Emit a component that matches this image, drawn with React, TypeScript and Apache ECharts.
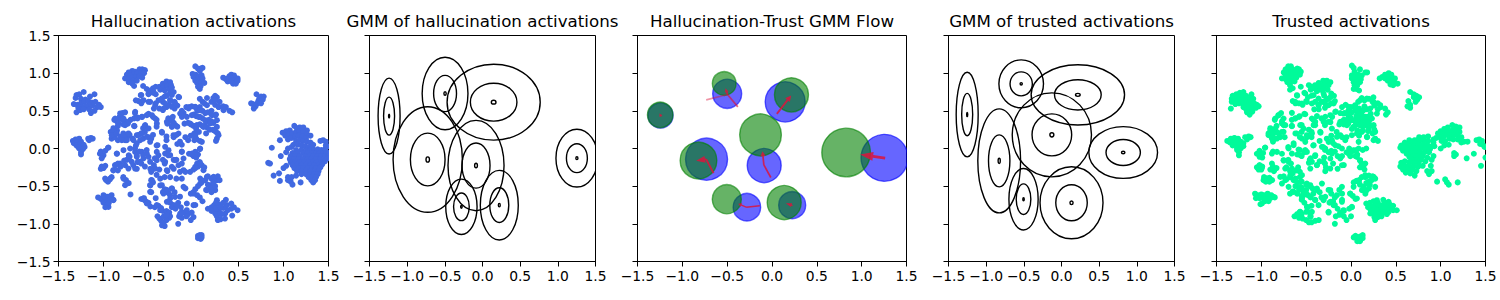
import React, { useEffect, useRef } from "react";
import * as echarts from "echarts";

type P = number[];

const panelTitles = [
  "Hallucination activations",
  "GMM of hallucination activations",
  "Hallucination-Trust GMM Flow",
  "GMM of trusted activations",
  "Trusted activations",
];
const tickValues = [-1.5, -1.0, -0.5, 0.0, 0.5, 1.0, 1.5];

// ---------- Hallucination activations (cluster by cluster)
const hallUpperLeft: P[] = [[-1.30,0.71],[-1.27,0.72],[-1.22,0.75],[-1.31,0.67],[-1.25,0.66],[-1.20,0.65],[-1.15,0.69],[-1.10,0.72],[-1.33,0.59],[-1.29,0.58],[-1.25,0.60],[-1.21,0.62],[-1.17,0.63],[-1.13,0.61],[-1.09,0.62],[-1.05,0.58],[-1.03,0.55],[-1.07,0.55],[-1.12,0.57],[-1.16,0.57],[-1.20,0.56],[-1.24,0.55],[-1.28,0.54],[-1.30,0.48],[-1.26,0.51],[-1.22,0.52],[-1.16,0.52],[-1.14,0.47],[-1.10,0.50]];
const hallLeft: P[] = [[-1.34,0.10],[-1.31,0.12],[-1.27,0.13],[-1.33,0.07],[-1.29,0.08],[-1.25,0.09],[-1.30,0.04],[-1.26,0.04],[-1.22,0.05],[-1.17,0.13],[-1.14,0.14],[-1.12,0.13],[-1.16,0.11],[-1.27,0.00],[-1.23,-0.01],[-1.25,-0.05],[-1.28,0.02],[-1.21,0.02],[-1.25,-0.08]];
const hallTopLeft: P[] = [[-0.68,1.03],[-0.72,1.01],[-0.65,1.02],[-0.60,1.05],[-0.57,1.05],[-0.54,1.04],[-0.74,0.98],[-0.70,0.97],[-0.66,0.98],[-0.62,1.00],[-0.58,1.00],[-0.55,1.00],[-0.76,0.93],[-0.72,0.92],[-0.68,0.94],[-0.64,0.95],[-0.60,0.96],[-0.57,0.94],[-0.72,0.88],[-0.67,0.90],[-0.63,0.90],[-0.68,0.86],[-0.66,0.83],[-0.56,0.83],[-0.52,0.79]];
const hallUpperMid: P[] = [[-0.45,0.80],[-0.42,0.82],[-0.38,0.82],[-0.34,0.86],[-0.30,0.89],[-0.26,0.88],[-0.33,0.82],[-0.29,0.83],[-0.25,0.84],[-0.37,0.78],[-0.32,0.77],[-0.27,0.79],[-0.24,0.81],[-0.48,0.77],[-0.45,0.74],[-0.50,0.72],[-0.42,0.72],[-0.30,0.70],[-0.26,0.74],[-0.22,0.75],[-0.61,0.63],[-0.64,0.64],[-0.58,0.71],[-0.58,0.60],[-0.49,0.75],[-0.50,0.62],[-0.42,0.60],[-0.44,0.53],[-0.38,0.53],[-0.34,0.51],[-0.30,0.55],[-0.34,0.62],[-0.26,0.64],[-0.21,0.62],[-0.21,0.53],[-0.24,0.71],[-0.32,0.69],[-0.27,0.58],[-0.18,0.57],[-0.16,0.68]];
const hallUpperMid2: P[] = [[-0.586,0.708],[-0.556,0.641],[-0.482,0.619],[-0.426,0.575],[-0.5,0.73],[-0.445,0.752],[-0.389,0.641],[-0.352,0.663],[-0.315,0.597],[-0.26,0.641],[-0.204,0.597],[-0.241,0.553],[-0.167,0.686],[-0.296,0.708],[-0.333,0.531]];
const hallTopCenter: P[] = [[0.02,1.09],[0.05,1.06],[0.08,1.06],[0.10,1.07],[0.07,1.03],[-0.01,0.99],[0.02,0.98],[0.00,0.95],[0.03,0.94],[0.06,0.96],[0.09,0.97],[0.02,0.90],[0.05,0.91],[0.08,0.92],[0.10,0.93],[0.04,0.87],[0.07,0.86],[0.09,0.88],[0.05,0.82],[0.07,0.79],[0.08,0.83],[0.12,0.87]];
const hallTopRight: P[] = [[0.33,0.94],[0.36,0.92],[0.38,0.89],[0.40,0.96],[0.42,0.98],[0.45,0.97],[0.38,0.93],[0.42,0.93],[0.46,0.94],[0.49,0.93],[0.42,0.89],[0.45,0.90],[0.48,0.89],[0.44,0.86],[0.47,0.86],[0.49,0.90],[0.70,0.72],[0.73,0.66],[0.78,0.69],[0.75,0.69],[0.72,0.63],[0.77,0.65],[0.71,0.60],[0.75,0.60],[0.69,0.56],[0.66,0.59],[0.64,0.60],[0.67,0.53]];
const hallRightUpper: P[] = [[0.99,0.21],[1.03,0.23],[1.07,0.24],[1.12,0.30],[1.15,0.27],[1.18,0.28],[1.22,0.28],[1.26,0.24],[1.02,0.17],[1.06,0.19],[1.10,0.20],[1.14,0.22],[1.18,0.23],[1.22,0.22],[1.26,0.19],[1.30,0.17],[1.05,0.12],[1.09,0.14],[1.13,0.16],[1.17,0.17],[1.21,0.16],[1.25,0.14],[0.96,0.11],[1.14,0.10],[1.18,0.11],[1.22,0.10],[1.26,0.09],[1.30,0.08],[1.33,0.05],[1.41,0.10],[1.44,0.11],[1.47,0.09],[1.11,0.05],[1.16,0.05],[1.20,0.04],[1.24,0.03],[1.28,0.02],[1.32,0.00],[1.05,0.00],[1.09,0.02]];
const hallRightDense: P[] = [[1.14,-0.02],[1.20,-0.02],[1.26,-0.02],[1.30,-0.02],[1.34,-0.02],[1.38,-0.01],[1.42,-0.02],[1.46,-0.01],[1.49,0.03],[1.47,0.04],[1.10,-0.06],[1.16,-0.06],[1.22,-0.06],[1.27,-0.06],[1.32,-0.06],[1.36,-0.06],[1.40,-0.06],[1.44,-0.06],[1.48,-0.05],[1.08,-0.10],[1.13,-0.10],[1.18,-0.10],[1.24,-0.10],[1.29,-0.10],[1.33,-0.10],[1.38,-0.10],[1.42,-0.10],[1.46,-0.10],[1.50,-0.10],[1.07,-0.14],[1.12,-0.14],[1.17,-0.14],[1.22,-0.14],[1.27,-0.14],[1.31,-0.14],[1.36,-0.14],[1.41,-0.14],[1.45,-0.14],[1.49,-0.13],[1.08,-0.18],[1.13,-0.18],[1.18,-0.18],[1.23,-0.18],[1.28,-0.18],[1.33,-0.18],[1.37,-0.18],[1.42,-0.18],[1.46,-0.17],[1.10,-0.22],[1.15,-0.22],[1.20,-0.22],[1.25,-0.22],[1.30,-0.22],[1.34,-0.22],[1.39,-0.22],[1.43,-0.21],[1.12,-0.26],[1.17,-0.26],[1.22,-0.26],[1.27,-0.26],[1.32,-0.26],[1.36,-0.26],[1.41,-0.25],[1.15,-0.30],[1.20,-0.30],[1.25,-0.30],[1.30,-0.30],[1.35,-0.30],[1.39,-0.30],[1.20,-0.34],[1.25,-0.34],[1.30,-0.34],[1.34,-0.34],[1.38,-0.34],[1.28,-0.38],[1.32,-0.38],[1.36,-0.38],[1.31,-0.42],[1.35,-0.42],[1.33,-0.45]];
const hallRightStray: P[] = [[0.87,0.01],[0.83,-0.19],[0.85,-0.20],[0.89,-0.36],[0.95,-0.33],[0.96,-0.43],[0.97,-0.10],[1.00,-0.26],[1.03,-0.23],[1.05,-0.38],[1.08,-0.44],[1.10,-0.48],[1.05,-0.42],[1.09,-0.38],[1.14,-0.36],[1.19,-0.45],[1.03,-0.05]];
const hallMidLeft: P[] = [[-0.88,0.38],[-0.85,0.36],[-0.82,0.42],[-0.79,0.47],[-0.76,0.48],[-0.80,0.39],[-0.76,0.36],[-0.73,0.33],[-0.70,0.38],[-0.66,0.40],[-0.78,0.32],[-0.84,0.30],[-0.65,0.47],[-0.62,0.41],[-0.57,0.42],[-0.50,0.46],[-0.45,0.42],[-0.41,0.38],[-0.41,0.29],[-0.54,0.30],[-0.56,0.27],[-0.66,0.30],[-0.89,0.27],[-0.85,0.24],[-0.92,0.22],[-0.91,0.13],[-0.84,0.11],[-0.78,0.20],[-0.74,0.15],[-0.80,0.13],[-0.71,0.18],[-0.61,0.18],[-0.58,0.20],[-0.56,0.13],[-0.50,0.15],[-0.45,0.18],[-0.47,0.13],[-0.64,0.04],[-0.63,0.07],[-0.65,0.00],[-0.76,0.11],[-0.68,0.13],[-0.54,0.22],[-0.88,0.15],[-0.95,0.01]];
const hallMidLeft2: P[] = [[-0.815,0.465],[-0.871,0.398],[-0.778,0.398],[-0.834,0.332],[-0.723,0.354],[-0.76,0.31],[-0.89,0.244],[-0.908,0.177],[-0.853,0.2],[-0.815,0.155],[-0.778,0.177],[-0.723,0.2],[-0.797,0.111],[-0.741,0.111],[-0.63,0.177],[-0.574,0.2],[-0.593,0.111],[-0.519,0.155],[-0.482,0.089],[-0.667,0.111],[-0.648,0.487],[-0.574,0.42],[-0.622,0.398],[-0.519,0.442],[-0.463,0.442],[-0.426,0.398],[-0.407,0.332],[-0.537,0.31],[-0.5,0.266],[-0.656,0.297],[-0.352,0.221],[-0.296,0.354],[-0.24,0.376],[-0.203,0.31],[-0.148,0.464],[-0.129,0.42],[-0.24,0.287],[-0.222,0.177],[-0.167,0.199]];
const hallCenter: P[] = [[-0.41,0.04],[-0.30,0.11],[-0.35,0.21],[-0.22,0.15],[-0.19,0.18],[-0.09,0.15],[-0.06,0.11],[-0.15,0.09],[-0.13,0.05],[0.00,0.18],[0.01,0.11],[0.07,0.10],[-0.28,0.40],[-0.25,0.37],[-0.22,0.34],[-0.29,0.33],[-0.24,0.30],[-0.18,0.29],[-0.23,0.42],[-0.30,0.16],[-0.18,0.06],[-0.03,0.17],[0.03,0.13],[-0.05,-0.07],[-0.02,-0.08],[0.02,-0.05],[0.05,-0.08],[0.07,-0.01],[0.00,-0.10],[0.03,-0.12],[0.04,-0.20],[0.07,-0.18],[0.09,-0.22],[0.12,-0.25],[0.00,-0.28],[0.02,-0.26],[0.05,-0.24]];
const hallCenter2: P[] = [[-0.945,0.013],[-0.853,-0.067],[-0.778,-0.022],[-0.704,0.0],[-0.649,-0.045],[-0.574,-0.045],[-0.519,-0.067],[-0.63,-0.111],[-0.723,-0.133],[-0.686,-0.177],[-0.556,-0.133],[-0.482,-0.177],[-0.76,-0.222],[-0.871,-0.222],[-0.89,-0.288],[-0.816,-0.2],[-0.723,-0.266],[-0.649,-0.266],[-0.593,-0.177],[-0.4,0.044],[-0.408,-0.045],[-0.315,0.022],[-0.278,-0.022],[-0.315,-0.067],[-0.259,-0.089],[-0.13,-0.045],[-0.111,-0.133],[-0.204,-0.155],[-0.315,-0.177],[-0.167,-0.222],[-0.241,-0.244],[-0.296,-0.288],[-0.111,-0.288],[-0.037,-0.31],[0.019,-0.244],[0.074,-0.199],[0.111,-0.288],[0.019,-0.045],[0.074,0.0],[-0.018,-0.067],[0.037,-0.089],[-0.463,-0.288],[-0.426,-0.266],[-0.408,-0.155]];
const hallLowerLeft: P[] = [[-1.04,-0.07],[-1.00,-0.09],[-1.03,-0.04],[-1.02,-0.13],[-0.98,-0.03],[-0.85,-0.07],[-1.02,-0.24],[-0.98,-0.23],[-1.03,-0.27],[-1.00,-0.26],[-0.97,-0.42],[-0.93,-0.41],[-0.91,-0.38],[-0.95,-0.44],[-0.89,-0.29],[-0.87,-0.22],[-0.84,-0.20],[-0.81,-0.24],[-0.84,-0.29],[-0.78,-0.38],[-0.75,-0.42],[-0.72,-0.46],[-0.70,-0.61],[-0.74,-0.15],[-0.71,-0.11],[-0.67,-0.22],[-0.63,-0.27],[-0.72,-0.09],[-0.63,-0.09],[-0.60,-0.04],[-0.56,-0.09],[-0.52,-0.02],[-0.50,-0.11],[-0.58,-0.20],[-0.54,-0.24],[-0.48,-0.27],[-0.47,-0.31],[-0.41,-0.35],[-0.37,-0.40],[-0.32,-0.38],[-0.26,-0.38],[-0.19,-0.40],[-0.13,-0.40],[-0.15,-0.31],[-0.09,-0.31],[-0.22,-0.27],[-0.32,-0.20],[-0.34,-0.15],[-0.39,-0.09],[-0.43,-0.13],[-0.28,-0.09],[-0.22,-0.15],[-0.19,-0.15],[-0.13,-0.20],[-0.13,-0.04],[-0.62,-0.18],[-0.77,-0.16],[-0.44,-0.22],[-0.38,-0.28],[-0.29,-0.30]];
const hallLowerMid: P[] = [[-0.47,-0.42],[-0.48,-0.49],[-0.47,-0.58],[-0.45,-0.45],[-0.37,-0.49],[-0.34,-0.58],[-0.30,-0.55],[-0.24,-0.53],[-0.21,-0.58],[-0.26,-0.62],[-0.32,-0.54],[-0.28,-0.59],[-0.15,-0.64],[-0.09,-0.53],[-0.42,-0.66],[-0.58,-0.67],[-0.55,-0.68],[-0.53,-0.70],[-0.50,-0.72],[-0.55,-0.66],[-0.48,-0.77],[-0.43,-0.78],[-0.39,-0.76],[-0.36,-0.79],[-0.34,-0.83],[-0.30,-0.83],[-0.27,-0.85],[-0.40,-0.90],[-0.38,-0.93],[-0.36,-0.96],[-0.33,-0.98],[-0.35,-1.02],[-0.32,-1.03],[-0.30,-0.95],[-0.27,-0.92],[-0.26,-0.90],[-0.33,-0.90],[-0.30,-0.88],[-0.26,-0.72],[-0.22,-0.75],[-0.24,-0.78],[-0.20,-0.80],[-0.17,-0.72],[-0.14,-0.78],[-0.13,-0.84],[-0.10,-0.85],[-0.06,-0.87],[-0.02,-0.85],[-0.16,-0.90],[-0.13,-0.92],[-0.08,-0.90],[-0.17,-1.00],[-0.03,-0.95],[0.00,-0.91],[0.02,-0.75]];
const hallLowerMid2: P[] = [[-0.463,-0.421],[-0.482,-0.487],[-0.352,-0.487],[-0.296,-0.553],[-0.241,-0.531],[-0.333,-0.598],[-0.204,-0.642],[-0.111,-0.509],[0.0,-0.598],[0.074,-0.465],[0.149,-0.376],[0.223,-0.376],[0.26,-0.421],[0.204,-0.487],[0.149,-0.553],[0.074,-0.399],[0.241,-0.553],[-0.482,-0.575],[-0.556,-0.664],[-0.519,-0.73],[-0.408,-0.752],[-0.371,-0.819],[-0.296,-0.708],[-0.185,-0.752],[-0.074,-0.73],[0.0,-0.752],[-0.148,-0.863],[-0.074,-0.819],[-0.259,-0.664],[-0.982,-0.399],[-0.927,-0.399],[-0.778,-0.399],[-0.76,-0.487],[-0.89,-0.686],[-0.964,-0.642],[-1.0,-0.708],[-0.945,-0.775],[0.26,-0.686],[0.223,-0.775],[0.297,-0.775],[0.371,-0.752],[0.26,-0.863],[0.352,-0.863]];
const hallLowerRight: P[] = [[-0.03,-0.60],[0.00,-0.58],[0.04,-0.62],[0.07,-0.65],[0.10,-0.70],[0.02,-0.54],[0.05,-0.50],[0.09,-0.45],[0.13,-0.42],[0.16,-0.37],[0.20,-0.40],[0.16,-0.48],[0.19,-0.53],[0.22,-0.45],[0.26,-0.40],[0.27,-0.37],[0.24,-0.50],[0.20,-0.58],[0.14,-0.55],[0.29,-0.42],[0.16,-0.80],[0.20,-0.78],[0.23,-0.75],[0.25,-0.72],[0.28,-0.74],[0.36,-0.68],[0.33,-0.72],[0.42,-0.73],[0.45,-0.78],[0.49,-0.82],[0.42,-0.80],[0.38,-0.82],[0.20,-0.83],[0.24,-0.86],[0.28,-0.82],[0.33,-0.79],[0.26,-0.90],[0.30,-0.94],[0.35,-0.93],[0.43,-0.89],[0.31,-0.87],[0.27,-0.95],[0.30,-0.86],[0.25,-0.80],[0.30,-0.78],[0.05,-1.16],[0.07,-1.15],[0.09,-1.15],[0.05,-1.19],[0.08,-1.20],[0.09,-1.18],[-1.06,-0.65],[-1.03,-0.67],[-1.00,-0.62],[-0.98,-0.65],[-0.95,-0.64],[-0.91,-0.62],[-0.89,-0.68],[-0.93,-0.68],[-0.97,-0.70],[-1.00,-0.72],[-0.96,-0.74],[-0.98,-0.78],[-0.94,-0.72]];
const hallCenterRight: P[] = [[-0.08,0.55],[-0.05,0.55],[-0.02,0.56],[0.02,0.55],[0.04,0.50],[0.07,0.55],[0.07,0.66],[0.10,0.62],[0.12,0.60],[0.15,0.67],[0.20,0.62],[0.22,0.67],[0.24,0.70],[0.26,0.68],[0.29,0.62],[0.24,0.58],[0.28,0.55],[0.33,0.56],[0.36,0.55],[0.40,0.50],[0.43,0.48],[0.25,0.45],[0.10,0.50],[0.13,0.47],[0.16,0.48],[0.20,0.50],[0.00,0.45],[0.03,0.43],[0.07,0.42],[0.10,0.40],[-0.11,0.47],[-0.13,0.50],[-0.10,0.33],[-0.06,0.34],[-0.03,0.32],[0.00,0.30],[0.03,0.30],[0.07,0.32],[0.10,0.30],[0.14,0.35],[0.17,0.38],[0.20,0.36],[0.22,0.34],[0.15,0.28],[0.18,0.25],[0.22,0.25],[0.25,0.22],[0.27,0.20],[0.14,0.20],[0.26,0.13],[0.25,0.10],[0.03,0.26],[0.06,0.22],[0.01,0.20]];
const hallCenterRight2: P[] = [[-0.055,0.531],[0.019,0.553],[0.074,0.509],[0.149,0.575],[0.241,0.641],[0.278,0.553],[0.334,0.509],[-0.074,0.42],[-0.018,0.442],[0.056,0.42],[0.13,0.376],[0.204,0.442],[0.26,0.376],[-0.037,0.332],[0.037,0.31],[0.111,0.287],[0.186,0.332],[0.26,0.287],[0.278,0.177],[0.223,0.243],[0.019,0.177],[0.093,0.088],[0.241,0.442]];
const hallucinatedX = [hallUpperLeft, hallLeft, hallTopLeft, hallUpperMid, hallUpperMid2, hallTopCenter, hallTopRight, hallRightUpper, hallRightDense, hallRightStray, hallMidLeft, hallMidLeft2, hallCenter, hallCenter2, hallLowerLeft, hallLowerMid, hallLowerMid2, hallLowerRight, hallCenterRight, hallCenterRight2].flat();

// ---------- Trusted activations
const trustUpperLeft: P[] = [[-1.32,0.70],[-1.28,0.72],[-1.24,0.74],[-1.20,0.75],[-1.33,0.66],[-1.29,0.67],[-1.25,0.68],[-1.21,0.69],[-1.17,0.70],[-1.11,0.72],[-1.33,0.62],[-1.29,0.63],[-1.25,0.64],[-1.21,0.65],[-1.17,0.65],[-1.13,0.66],[-1.09,0.66],[-1.29,0.59],[-1.25,0.60],[-1.21,0.60],[-1.16,0.61],[-1.12,0.62],[-1.08,0.60],[-1.05,0.58],[-1.03,0.56],[-1.34,0.53],[-1.20,0.55],[-1.15,0.57],[-1.10,0.56],[-1.06,0.54],[-1.17,0.52],[-1.12,0.52],[-1.16,0.48],[-1.10,0.49],[-1.13,0.45]];
const trustLeft: P[] = [[-1.38,0.10],[-1.34,0.13],[-1.30,0.14],[-1.26,0.13],[-1.35,0.08],[-1.31,0.08],[-1.27,0.09],[-1.23,0.09],[-1.32,0.04],[-1.28,0.04],[-1.24,0.05],[-1.20,0.07],[-1.18,0.15],[-1.14,0.16],[-1.12,0.15],[-1.16,0.12],[-1.27,0.00],[-1.23,0.00],[-1.20,0.03],[-1.25,-0.05],[-1.27,-0.02],[-1.25,-0.09]];
const trustTopLeft: P[] = [[-0.70,1.09],[-0.67,1.09],[-0.73,1.05],[-0.69,1.05],[-0.65,1.05],[-0.60,1.06],[-0.58,1.05],[-0.75,1.01],[-0.71,1.01],[-0.67,1.01],[-0.63,1.01],[-0.59,1.02],[-0.56,1.02],[-0.73,0.97],[-0.69,0.97],[-0.65,0.97],[-0.61,0.97],[-0.57,0.98],[-0.77,0.93],[-0.73,0.92],[-0.69,0.93],[-0.65,0.93],[-0.61,0.94],[-0.71,0.88],[-0.67,0.89],[-0.63,0.89],[-0.68,0.84],[-0.65,0.80],[-0.68,0.78]];
const trustUpperMid: P[] = [[-0.47,0.84],[-0.44,0.82],[-0.40,0.84],[-0.36,0.87],[-0.31,0.90],[-0.27,0.90],[-0.23,0.88],[-0.45,0.78],[-0.41,0.80],[-0.37,0.82],[-0.33,0.84],[-0.29,0.85],[-0.25,0.84],[-0.38,0.76],[-0.34,0.78],[-0.30,0.80],[-0.26,0.78],[-0.22,0.73],[-0.56,0.82],[-0.52,0.74],[-0.60,0.70],[-0.65,0.63],[-0.62,0.60],[-0.58,0.60],[-0.54,0.58],[-0.50,0.63],[-0.48,0.68],[-0.44,0.70],[-0.40,0.62],[-0.36,0.58],[-0.33,0.62],[-0.30,0.70],[-0.27,0.65],[-0.23,0.68],[-0.19,0.70],[-0.18,0.63],[-0.22,0.60],[-0.28,0.58],[-0.36,0.52],[-0.41,0.52],[-0.29,0.54],[-0.17,0.49]];
const trustUpperMid2: P[] = [[-0.603,0.708],[-0.622,0.619],[-0.547,0.597],[-0.492,0.619],[-0.51,0.73],[-0.417,0.708],[-0.362,0.663],[-0.306,0.73],[-0.306,0.619],[-0.25,0.663],[-0.194,0.597],[-0.25,0.575],[-0.362,0.575],[-0.436,0.597]];
const trustTopCenter: P[] = [[0.01,1.10],[0.03,1.07],[0.10,1.05],[0.16,1.01],[0.18,1.01],[0.04,1.02],[0.01,0.97],[0.04,0.97],[0.08,0.98],[0.12,0.97],[0.01,0.93],[0.04,0.93],[0.08,0.93],[0.11,0.92],[0.03,0.88],[0.07,0.89],[0.10,0.88],[0.04,0.84],[0.07,0.84],[0.03,0.79],[0.06,0.79],[0.09,0.77]];
const trustTopRight: P[] = [[0.32,0.93],[0.35,0.95],[0.38,0.98],[0.42,1.00],[0.45,0.98],[0.38,0.93],[0.42,0.94],[0.46,0.94],[0.49,0.93],[0.41,0.90],[0.45,0.89],[0.49,0.87],[0.52,0.86],[0.44,0.85],[0.47,0.84],[0.66,0.75],[0.70,0.72],[0.73,0.70],[0.76,0.68],[0.70,0.68],[0.74,0.65],[0.72,0.62],[0.64,0.63],[0.66,0.58],[0.66,0.54],[0.63,0.56]];
const trustRightDense: P[] = [[0.60,0.08],[0.65,0.11],[0.71,0.11],[0.76,0.15],[0.81,0.15],[0.86,0.16],[0.92,0.12],[0.56,0.04],[0.61,0.06],[0.66,0.07],[0.71,0.08],[0.76,0.10],[0.81,0.10],[0.86,0.10],[0.92,0.08],[0.55,0.01],[0.60,0.01],[0.65,0.03],[0.70,0.03],[0.75,0.05],[0.80,0.05],[0.85,0.05],[0.90,0.03],[0.58,-0.03],[0.63,-0.03],[0.68,-0.02],[0.73,0.00],[0.78,0.00],[0.83,0.00],[0.88,-0.01],[0.93,0.03],[0.62,-0.07],[0.67,-0.07],[0.72,-0.05],[0.77,-0.05],[0.82,-0.05],[0.87,-0.05],[0.65,-0.11],[0.70,-0.10],[0.75,-0.10],[0.80,-0.10],[0.85,-0.12],[0.92,-0.10],[0.68,-0.15],[0.73,-0.15],[0.78,-0.15],[0.83,-0.17],[0.90,-0.15],[0.56,-0.19],[0.60,-0.17],[0.65,-0.18],[0.70,-0.19],[0.75,-0.19],[0.55,-0.24],[0.60,-0.23],[0.65,-0.23],[0.70,-0.24],[0.75,-0.24],[0.80,-0.23],[0.89,-0.23],[0.58,-0.28],[0.63,-0.28],[0.68,-0.29],[0.73,-0.30],[0.85,-0.30],[0.90,-0.30],[0.61,-0.32],[0.66,-0.33],[0.71,-0.36],[0.87,-0.34]];
const trustRightArm: P[] = [[1.00,0.23],[1.04,0.26],[1.08,0.28],[1.13,0.31],[1.17,0.29],[1.21,0.28],[0.97,0.20],[1.01,0.20],[1.05,0.21],[1.09,0.22],[1.13,0.24],[1.17,0.24],[1.21,0.22],[0.95,0.14],[0.99,0.15],[1.03,0.16],[1.07,0.18],[1.11,0.18],[1.15,0.18],[1.19,0.18],[1.23,0.15],[1.01,0.10],[1.05,0.10],[1.10,0.13],[1.14,0.12],[1.19,0.12],[1.26,0.09],[1.30,0.09],[1.23,0.08],[1.09,0.05],[1.04,0.04],[1.00,0.00],[1.40,0.11],[1.43,0.12],[1.46,0.10],[1.47,0.05],[1.44,0.06],[1.49,0.02],[1.29,-0.13],[1.37,-0.07],[1.45,-0.23],[1.50,-0.12],[1.15,-0.06],[1.17,-0.08],[1.15,-0.10],[0.96,-0.44],[1.05,-0.41],[1.07,-0.45],[1.09,-0.48],[1.19,-0.45]];
const trustMid: P[] = [[-0.85,0.38],[-0.81,0.44],[-0.78,0.47],[-0.90,0.27],[-0.92,0.20],[-0.88,0.18],[-0.83,0.22],[-0.75,0.31],[-0.77,0.22],[-0.85,0.13],[-0.79,0.15],[-0.87,0.09],[-0.74,0.15],[-0.88,0.24],[-0.83,0.30],[-0.77,0.36],[-0.66,0.30],[-0.66,0.38],[-0.62,0.40],[-0.58,0.42],[-0.52,0.46],[-0.42,0.38],[-0.40,0.31],[-0.33,0.40],[-0.29,0.31],[-0.23,0.35],[-0.21,0.42],[-0.34,0.21],[-0.55,0.31],[-0.62,0.20],[-0.57,0.15],[-0.49,0.15],[-0.44,0.22],[-0.27,0.13],[-0.22,0.17],[-0.16,0.22],[-0.10,0.15],[-0.05,0.15],[-0.64,0.07],[-0.57,-0.02],[-0.51,-0.02],[-0.42,0.04],[-0.31,0.02],[-0.29,-0.02],[-0.96,0.01],[-0.87,-0.04],[-0.70,0.02],[-0.77,-0.07],[-0.47,0.25],[-0.38,0.43],[-0.55,0.22],[-0.44,0.15],[-0.35,0.10],[-0.20,0.07],[-0.14,0.03],[-0.22,-0.03],[-0.60,-0.08],[-0.55,-0.10],[-0.52,-0.05],[-0.47,-0.19],[-0.46,-0.15],[-0.30,-0.12],[-0.35,-0.17],[-0.40,-0.10],[-0.45,-0.13],[-0.38,-0.22],[-0.28,-0.25],[-0.29,-0.20],[-0.25,-0.05],[-0.18,-0.04],[-0.15,-0.10],[-0.08,-0.22],[-0.15,-0.27],[-0.20,-0.20],[-0.10,-0.10],[-0.05,-0.05],[-0.02,0.00]];
const trustMid2: P[] = [[-0.845,0.398],[-0.808,0.442],[-0.752,0.398],[-0.77,0.332],[-0.733,0.31],[-0.9,0.243],[-0.845,0.265],[-0.919,0.177],[-0.863,0.199],[-0.808,0.199],[-0.752,0.221],[-0.882,0.132],[-0.826,0.132],[-0.659,0.473],[-0.622,0.398],[-0.573,0.429],[-0.51,0.455],[-0.659,0.296],[-0.566,0.31],[-0.529,0.265],[-0.436,0.398],[-0.399,0.354],[-0.287,0.42],[-0.231,0.442],[-0.25,0.354],[-0.306,0.354],[-0.417,0.31],[-0.343,0.221],[-0.213,0.265],[-0.12,0.354],[-0.176,0.486],[-0.603,0.199],[-0.547,0.132],[-0.492,0.177],[-0.436,0.199],[-0.51,0.088]];
const trustMid3: P[] = [[-0.956,0.013],[-0.826,-0.045],[-0.882,-0.067],[-0.64,0.044],[-0.585,-0.014],[-0.696,0.0],[-0.659,-0.067],[-0.566,-0.089],[-0.492,-0.045],[-0.417,0.044],[-0.324,0.022],[-0.287,0.0],[-0.213,0.11],[-0.157,0.155],[-0.25,0.088],[-0.12,0.177],[-0.064,0.11],[0.01,0.177],[0.085,0.088],[-0.176,0.044],[-0.101,0.0],[-0.213,-0.067],[-0.399,-0.089],[-0.436,-0.177],[-0.38,-0.222],[-0.306,-0.177],[-0.231,-0.133],[-0.12,-0.133],[-0.101,-0.222],[-0.231,-0.266],[-0.287,-0.301],[-0.454,-0.266],[-0.752,-0.155],[-0.696,-0.177],[-0.659,-0.266],[-0.733,-0.266],[-0.882,-0.199],[-0.856,-0.288],[-0.993,-0.253],[-0.938,-0.399],[-0.975,-0.42],[-0.027,-0.067],[0.029,-0.022],[0.085,0.0],[-0.008,-0.102],[0.066,-0.111],[0.103,-0.155],[0.159,-0.199],[0.122,-0.244]];
const trustLowerLeft: P[] = [[-1.05,-0.07],[-1.02,-0.03],[-1.00,-0.07],[-0.98,-0.06],[-1.02,-0.11],[-0.99,-0.12],[-1.05,-0.25],[-1.02,-0.22],[-1.03,-0.28],[-0.99,-0.24],[-1.00,-0.28],[-0.97,-0.38],[-0.94,-0.40],[-0.91,-0.39],[-0.95,-0.44],[-0.91,-0.44],[-0.88,-0.42],[-0.87,-0.24],[-0.90,-0.28],[-0.86,-0.30],[-0.83,-0.26],[-1.07,-0.60],[-1.04,-0.62],[-1.06,-0.66],[-1.02,-0.66],[-1.00,-0.61],[-0.97,-0.62],[-0.93,-0.60],[-0.89,-0.62],[-0.85,-0.65],[-0.98,-0.66],[-0.94,-0.66],[-0.90,-0.66],[-0.96,-0.70],[-0.92,-0.70],[-1.01,-0.74],[-0.75,-0.16],[-0.70,-0.15],[-0.67,-0.20],[-0.72,-0.25],[-0.68,-0.30],[-0.65,-0.33],[-0.61,-0.29],[-0.59,-0.25],[-0.57,-0.31],[-0.75,-0.37],[-0.72,-0.41],[-0.68,-0.38],[-0.64,-0.42],[-0.60,-0.45],[-0.57,-0.38],[-0.55,-0.44],[-0.50,-0.48],[-0.62,-0.50],[-0.58,-0.55],[-0.55,-0.52],[-0.50,-0.55],[-0.46,-0.50],[-0.43,-0.53],[-0.68,-0.60],[-0.65,-0.57],[-0.60,-0.60],[-0.55,-0.63],[-0.50,-0.60],[-0.45,-0.65],[-0.42,-0.60],[-0.38,-0.55],[-0.35,-0.58],[-0.40,-0.68],[-0.33,-0.65],[-0.48,-0.62],[-0.53,-0.58]];
const trustLowerMid: P[] = [[-0.55,-0.68],[-0.52,-0.72],[-0.48,-0.78],[-0.44,-0.76],[-0.50,-0.84],[-0.57,-0.84],[-0.60,-0.87],[-0.63,-0.90],[-0.58,-0.92],[-0.54,-0.93],[-0.50,-0.95],[-0.47,-0.98],[-0.44,-0.98],[-0.40,-0.96],[-0.36,-0.95],[-0.45,-0.90],[-0.55,-0.87],[-0.46,-0.85],[-0.25,-0.55],[-0.22,-0.60],[-0.18,-0.65],[-0.20,-0.70],[-0.24,-0.72],[-0.13,-0.55],[-0.10,-0.60],[-0.10,-0.68],[-0.18,-0.75],[-0.15,-0.80],[-0.12,-0.85],[-0.08,-0.83],[-0.02,-0.80],[-0.17,-0.90],[-0.13,-0.88],[-0.08,-0.90],[-0.18,-1.00],[-0.25,-0.85],[-0.05,-0.95],[0.00,-0.90],[0.01,-0.78],[-0.01,-0.60],[0.02,-0.63],[0.05,-0.67]];
const trustLowerMid2: P[] = [[-0.789,-0.377],[-0.733,-0.421],[-0.677,-0.354],[-0.622,-0.399],[-0.547,-0.354],[-0.492,-0.465],[-0.696,-0.509],[-0.64,-0.576],[-0.566,-0.509],[-0.77,-0.465],[-0.454,-0.487],[-0.38,-0.531],[-0.324,-0.465],[-0.231,-0.553],[-0.101,-0.509],[-0.529,-0.62],[-0.454,-0.642],[-0.399,-0.686],[-0.547,-0.664],[-0.287,-0.642],[-0.231,-0.708],[-0.157,-0.62],[-0.008,-0.598],[0.066,-0.664],[0.029,-0.509],[0.085,-0.443],[0.159,-0.354],[0.252,-0.377],[0.196,-0.443],[0.14,-0.509],[0.27,-0.509],[0.122,-0.553],[-0.975,-0.642],[-0.919,-0.642],[-0.863,-0.642],[-0.993,-0.73],[-0.566,-0.841],[-0.492,-0.775],[-0.436,-0.841],[-0.362,-0.752],[-0.306,-0.686],[-0.194,-0.752],[-0.25,-0.841],[-0.101,-0.708],[-0.083,-0.819],[0.01,-0.775],[-0.454,-0.907],[0.289,-0.686],[0.215,-0.775],[0.289,-0.775],[0.363,-0.753],[0.419,-0.708],[0.215,-0.863],[0.289,-0.863],[0.382,-0.841]];
const trustLowerRight: P[] = [[0.03,-0.45],[0.06,-0.43],[0.09,-0.42],[0.12,-0.38],[0.10,-0.48],[0.14,-0.52],[0.17,-0.56],[0.17,-0.46],[0.16,-0.38],[0.20,-0.36],[0.24,-0.37],[0.27,-0.40],[0.21,-0.48],[0.20,-0.53],[0.16,-0.60],[0.23,-0.42],[0.00,-0.05],[0.03,-0.03],[0.05,-0.10],[0.07,-0.08],[0.10,-0.16],[0.12,-0.20],[0.14,-0.23],[0.10,-0.25],[0.15,-0.28],[0.13,-0.02],[0.17,0.00],[0.06,-0.02],[0.17,-0.73],[0.21,-0.72],[0.25,-0.70],[0.30,-0.72],[0.36,-0.68],[0.38,-0.72],[0.19,-0.78],[0.23,-0.77],[0.27,-0.76],[0.31,-0.76],[0.35,-0.75],[0.39,-0.76],[0.43,-0.74],[0.47,-0.76],[0.51,-0.82],[0.47,-0.82],[0.43,-0.79],[0.22,-0.82],[0.26,-0.81],[0.30,-0.81],[0.34,-0.80],[0.38,-0.80],[0.42,-0.84],[0.24,-0.86],[0.28,-0.86],[0.32,-0.85],[0.36,-0.85],[0.40,-0.87],[0.26,-0.91],[0.30,-0.91],[0.34,-0.90],[0.27,-0.95],[0.03,-1.18],[0.05,-1.16],[0.07,-1.20],[0.10,-1.17],[0.13,-1.19],[0.07,-1.23],[0.10,-1.23],[0.13,-1.15]];
const trustCenterRight: P[] = [[-0.12,0.47],[-0.10,0.55],[-0.06,0.58],[-0.03,0.50],[0.00,0.55],[0.04,0.56],[0.08,0.62],[0.12,0.67],[0.15,0.64],[0.20,0.66],[0.25,0.68],[0.24,0.62],[0.30,0.60],[0.33,0.55],[0.38,0.53],[0.41,0.48],[0.39,0.45],[0.30,0.52],[0.26,0.57],[0.15,0.56],[0.18,0.52],[0.22,0.46],[-0.07,0.47],[-0.03,0.44],[0.01,0.48],[0.05,0.51],[0.09,0.53],[0.12,0.48],[0.06,0.43],[0.10,0.43],[0.14,0.42],[0.18,0.42],[-0.08,0.38],[-0.04,0.38],[0.00,0.40],[0.04,0.37],[0.08,0.37],[0.12,0.36],[0.16,0.36],[0.20,0.36],[-0.13,0.32],[-0.08,0.32],[-0.03,0.33],[0.05,0.31],[0.10,0.31],[0.14,0.30],[0.18,0.30],[0.22,0.30],[0.26,0.25],[0.01,0.26],[0.07,0.24],[0.13,0.24],[0.19,0.23],[0.24,0.20],[0.27,0.13],[0.30,0.10],[0.18,0.15],[0.09,0.17]];
const trustCenterRight2: P[] = [[-0.027,0.553],[0.047,0.575],[0.103,0.641],[0.177,0.663],[0.252,0.619],[0.326,0.575],[-0.083,0.464],[-0.008,0.464],[0.066,0.486],[0.14,0.509],[0.215,0.531],[0.289,0.464],[-0.064,0.376],[0.01,0.376],[0.085,0.398],[0.159,0.42],[0.233,0.398],[-0.046,0.31],[0.029,0.287],[0.103,0.31],[0.177,0.332],[0.252,0.31],[0.122,0.221],[0.196,0.243],[0.27,0.221],[0.252,0.11],[0.177,0.155],[0.066,0.199]];
const trustedX = [trustUpperLeft, trustLeft, trustTopLeft, trustUpperMid, trustUpperMid2, trustTopCenter, trustTopRight, trustRightDense, trustRightArm, trustMid, trustMid2, trustMid3, trustLowerLeft, trustLowerMid, trustLowerMid2, trustLowerRight, trustCenterRight, trustCenterRight2].flat();

// ---------- GMM components: [mean x, mean y, sd x, sd y]
const hallucinationGmm: P[] = [[-1.24,0.43,0.073,0.252],[-0.497,0.73,0.152,0.241],[0.148,0.615,0.309,0.252],[-0.727,-0.146,0.23,0.35],[-0.086,-0.226,0.186,0.30],[1.253,-0.128,0.139,0.192],[-0.28,-0.774,0.104,0.184],[0.223,-0.752,0.126,0.231]];
const trustedGmm: P[] = [[-1.252,0.451,0.073,0.281],[-0.535,0.858,0.148,0.159],[0.217,0.712,0.31,0.2],[-0.128,0.181,0.263,0.279],[-0.827,-0.164,0.142,0.345],[0.819,-0.053,0.228,0.172],[-0.504,-0.673,0.097,0.204],[0.133,-0.721,0.209,0.239]];

// ---------- Flow panel: circles [x, y] and arrows [x0, y0, x1, y1]
const flowBlueCenters: P[] = [[1.255,-0.124],[0.147,0.619],[-0.50,0.726],[-1.243,0.438],[-0.73,-0.142],[-0.087,-0.226],[-0.28,-0.779],[0.225,-0.752]];
const flowGreenCenters: P[] = [[-1.247,0.447],[-0.533,0.863],[0.217,0.712],[-0.128,0.181],[-0.82,-0.159],[0.827,-0.053],[-0.504,-0.673],[0.136,-0.717]];
const flowArrows: P[] = [[1.262,-0.128,0.983,-0.08],[0.054,0.46,0.214,0.704],[-0.734,0.646,-0.496,0.717],[-0.381,0.553,-0.496,0.717],[-0.496,0.717,-0.519,0.80],[-1.235,0.425,-1.255,0.465],[-0.652,-0.327,-0.734,-0.142],[-0.734,-0.142,-0.846,-0.164],[-0.013,-0.385,-0.091,-0.217],[-0.091,-0.217,-0.106,-0.035],[-0.136,-0.761,-0.288,-0.779],[-0.288,-0.779,-0.377,-0.735],[0.229,-0.757,0.154,-0.726]];

// styles kept apart from the values
const blueSizes = [47, 40, 29, 25, 42, 34, 27.5, 27];
const greenSizes = [25.5, 23.7, 34, 41.7, 36.7, 48.7, 29, 34];
// shaft width, head width, head length, opacity
const arrowLooks = [[2.8,9,13,0.85],[1.9,6,6,0.85],[1.7,1.7,0,0.45],[1.7,1.7,0,0.65],[1.7,4,4,0.8],[1.3,3.5,3,0.85],[1.9,1.9,0,0.85],[1.7,7,9,0.85],[1.7,1.7,0,0.85],[1.7,5,5,0.85],[1.6,1.6,0,0.85],[1.4,4,3.5,0.85],[1.3,4,6,0.85]];

const panelBoxes = [
  { left: 58.5, width: 270 },
  { left: 369.5, width: 226 },
  { left: 637.5, width: 269 },
  { left: 948.5, width: 226 },
  { left: 1216.5, width: 269 },
];
const plotTop = 35.5;
const plotHeight = 226;
const INK = "#000";
const FONT = "DejaVu Sans";

function ellipseItem(_p: any, api: any) {
  const c = api.coord([api.value(0), api.value(1)]);
  const s = api.size([api.value(2), api.value(3)], [api.value(0), api.value(1)]);
  const mk = (k: number) => ({
    type: "ellipse",
    shape: { cx: c[0], cy: c[1], rx: s[0] * k, ry: s[1] * k },
    style: { fill: "none", stroke: INK, lineWidth: 1.4 },
  });
  return { type: "group", children: [mk(2), mk(1), mk(0.1)] };
}

function arrowItem(p: any, api: any) {
  const a = api.coord([api.value(0), api.value(1)]);
  const b = api.coord([api.value(2), api.value(3)]);
  const [shaft, headW, headL, alpha] = arrowLooks[p.dataIndex];
  const dx = b[0] - a[0];
  const dy = b[1] - a[1];
  const len = Math.hypot(dx, dy) || 1;
  const ux = dx / len;
  const uy = dy / len;
  const nx = -uy;
  const ny = ux;
  const base = [b[0] - ux * headL, b[1] - uy * headL];
  const fill = `rgba(220,20,60,${alpha})`;
  const poly =
    headL > 0
      ? [
          [a[0] + nx * shaft / 2, a[1] + ny * shaft / 2],
          [base[0] + nx * shaft / 2, base[1] + ny * shaft / 2],
          [base[0] + nx * headW / 2, base[1] + ny * headW / 2],
          [b[0], b[1]],
          [base[0] - nx * headW / 2, base[1] - ny * headW / 2],
          [base[0] - nx * shaft / 2, base[1] - ny * shaft / 2],
          [a[0] - nx * shaft / 2, a[1] - ny * shaft / 2],
        ]
      : [
          [a[0] + nx * shaft / 2, a[1] + ny * shaft / 2],
          [b[0] + nx * shaft / 2, b[1] + ny * shaft / 2],
          [b[0] - nx * shaft / 2, b[1] - ny * shaft / 2],
          [a[0] - nx * shaft / 2, a[1] - ny * shaft / 2],
        ];
  return { type: "polygon", shape: { points: poly }, style: { fill, stroke: "none" } };
}

function axisBase(i: number) {
  return {
    gridIndex: i,
    type: "value" as const,
    min: tickValues[0],
    max: tickValues[tickValues.length - 1],
    interval: 0.5,
    splitLine: { show: false },
    axisLine: { show: true, onZero: false, lineStyle: { color: INK, width: 1 } },
    axisTick: { show: true, length: 5, lineStyle: { color: INK, width: 1 } },
  };
}
const tickText = (v: number) => v.toFixed(1).replace("-", "\u2212");

export default function App() {
  const ref = useRef<HTMLDivElement>(null);
  useEffect(() => {
    document.body.style.margin = "0";
    const chart = echarts.init(ref.current!, undefined, { renderer: "svg" });
    const dot = (i: number, data: P[], color: string) => ({
      type: "custom",
      xAxisIndex: i,
      yAxisIndex: i,
      data,
      clip: true,
      encode: { x: 0, y: 1 },
      silent: true,
      renderItem: (_p: any, api: any) => {
        const c = api.coord([api.value(0), api.value(1)]);
        return { type: "circle", shape: { cx: c[0], cy: c[1], r: 3 }, style: { fill: color } };
      },
    });
    const gmm = (i: number, data: P[]) => ({
      type: "custom",
      xAxisIndex: i,
      yAxisIndex: i,
      data,
      renderItem: ellipseItem,
      clip: true,
      encode: { x: 0, y: 1 },
      silent: true,
    });
    const flowCircles = (data: P[], sizes: number[], rgb: string, z: number) => ({
      type: "custom",
      xAxisIndex: 2,
      yAxisIndex: 2,
      z,
      data,
      clip: true,
      encode: { x: 0, y: 1 },
      silent: true,
      renderItem: (p: any, api: any) => {
        const c = api.coord([api.value(0), api.value(1)]);
        return {
          type: "circle",
          shape: { cx: c[0], cy: c[1], r: sizes[p.dataIndex] / 2 },
          style: { fill: `rgba(${rgb},0.6)`, stroke: `rgba(${rgb},0.6)`, lineWidth: 1.4 },
        };
      },
    });
    chart.setOption({
      animation: false,
      backgroundColor: "#fff",
      textStyle: { fontFamily: FONT },
      title: panelTitles.map((text, i) => ({
        text,
        padding: 0,
        left: panelBoxes[i].left + panelBoxes[i].width / 2,
        top: 13,
        textAlign: "center",
        textStyle: { fontFamily: FONT, fontSize: 16.67, fontWeight: "normal", color: INK },
      })),
      grid: panelBoxes.map((b) => ({
        left: b.left,
        width: b.width,
        top: plotTop,
        height: plotHeight,
        show: true,
        borderColor: INK,
        borderWidth: 1,
        backgroundColor: "#fff",
      })),
      xAxis: panelBoxes.map((_, i) => ({
        ...axisBase(i),
        position: "bottom",
        axisLabel: { show: true, hideOverlap: false, interval: 0, margin: 7, color: INK, fontSize: 13.89, fontFamily: FONT, formatter: tickText },
      })),
      yAxis: panelBoxes.map((_, i) => ({
        ...axisBase(i),
        position: "left",
        axisLabel: { show: i === 0, hideOverlap: false, interval: 0, margin: 8, color: INK, fontSize: 13.89, fontFamily: FONT, formatter: tickText },
      })),
      series: [
        dot(0, hallucinatedX, "#4169e1"),
        gmm(1, hallucinationGmm),
        flowCircles(flowBlueCenters, blueSizes, "0,0,255", 2),
        flowCircles(flowGreenCenters, greenSizes, "0,128,0", 3),
        {
          type: "custom",
          xAxisIndex: 2,
          yAxisIndex: 2,
          z: 4,
          data: flowArrows,
          renderItem: arrowItem,
          clip: true,
          encode: { x: [0, 2], y: [1, 3] },
          silent: true,
        },
        gmm(3, trustedGmm),
        dot(4, trustedX, "#00fa9a"),
      ],
    });
    return () => chart.dispose();
  }, []);
  return <div ref={ref} style={{ width: 1500, height: 300 }} />;
}
